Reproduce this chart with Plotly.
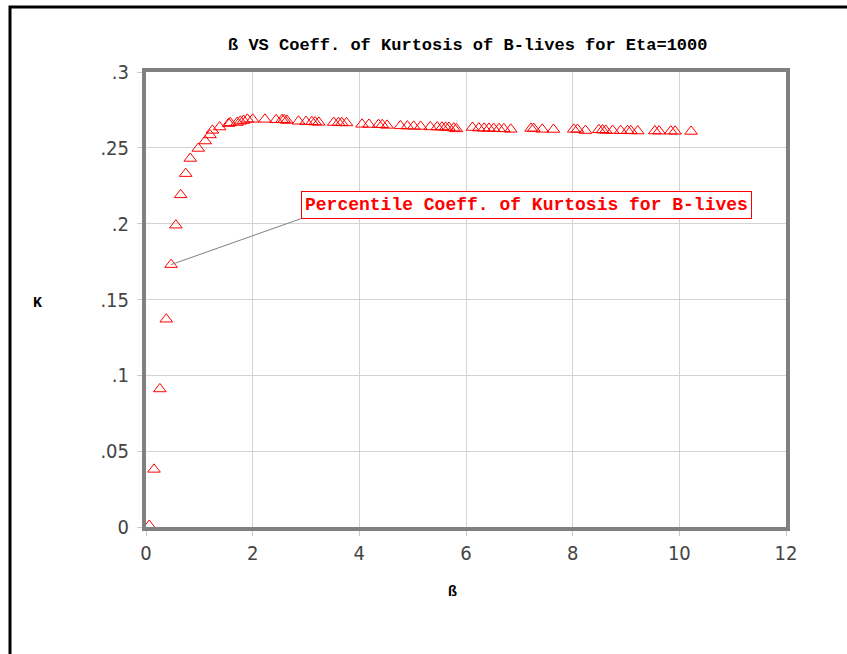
import plotly.graph_objects as go

beta = [0.06, 0.15, 0.26, 0.38, 0.47, 0.56, 0.65, 0.745, 0.83, 0.98, 1.11, 1.20, 1.245, 1.38,
        1.55, 1.58, 1.71, 1.77, 1.83, 1.90, 2.0, 2.23, 2.44, 2.55, 2.59, 2.64, 2.86, 3.0,
        3.11, 3.17, 3.24, 3.52, 3.61, 3.67, 3.76, 4.05, 4.18, 4.36, 4.43, 4.52, 4.77, 4.90,
        5.02, 5.15, 5.33, 5.46, 5.55, 5.62, 5.68, 5.77, 5.82, 6.12, 6.24, 6.34, 6.43, 6.52,
        6.62, 6.71, 6.84, 7.22, 7.27, 7.43, 7.64, 8.02, 8.09, 8.24, 8.49, 8.56, 8.62, 8.75,
        8.90, 9.03, 9.09, 9.22, 9.54, 9.62, 9.84, 9.92, 10.22]
kurt = [0.001, 0.038, 0.091, 0.137, 0.173, 0.199, 0.219, 0.233, 0.243, 0.2496, 0.2545, 0.2585,
        0.2615, 0.2637, 0.266, 0.2665, 0.2667, 0.2675, 0.268, 0.2688, 0.2688, 0.2688, 0.2685,
        0.2686, 0.2685, 0.268, 0.2675, 0.2673, 0.2672, 0.267, 0.2668, 0.2667, 0.2666, 0.2665,
        0.2664, 0.2655, 0.2654, 0.2653, 0.2652, 0.2648, 0.2645, 0.2643, 0.2642, 0.2641, 0.2638,
        0.2637, 0.2636, 0.2635, 0.2634, 0.263, 0.2625, 0.2634, 0.263, 0.2629, 0.2628, 0.2627,
        0.2626, 0.2625, 0.2622, 0.2628, 0.2627, 0.2622, 0.2621, 0.2622, 0.2621, 0.2614, 0.2619,
        0.2617, 0.2615, 0.2614, 0.2613, 0.2613, 0.2612, 0.2611, 0.2611, 0.261, 0.261, 0.2609,
        0.2608]

x_ticks = [0, 2, 4, 6, 8, 10, 12]
y_ticks = [0, 0.05, 0.1, 0.15, 0.2, 0.25, 0.3]
y_tick_text = ["0", ".05", ".1", ".15", ".2", ".25", ".3"]

title_text = "ß VS Coeff. of Kurtosis of B-lives for Eta=1000"
note_text = "Percentile Coeff. of Kurtosis for B-lives"
note_idx = 4

mono = "Liberation Mono, Courier New, monospace"
tickfont = dict(family="DejaVu Sans Condensed, Liberation Sans Narrow, Arial Narrow, sans-serif",
                size=20, color="#444444", weight=300)

fig = go.Figure()
fig.add_trace(go.Scatter(
    x=beta, y=kurt, mode="markers",
    marker=dict(symbol="triangle-up-open", size=11, color="#ff0000", line=dict(width=1)),
    showlegend=False, hoverinfo="x+y"))

fig.update_layout(
    width=847, height=654,
    margin=dict(l=146, r=61, t=72, b=127),
    paper_bgcolor="white", plot_bgcolor="white",
    xaxis=dict(range=[0, 12], tickvals=x_ticks, showgrid=True, gridcolor="#d3d3d3", gridwidth=1,
               showline=True, linecolor="#808080", linewidth=4, mirror=True, zeroline=False,
               ticks="outside", ticklen=5, tickcolor="#c8c8c8", tickfont=tickfont, ticklabelstandoff=0),
    yaxis=dict(range=[0, 0.3], tickvals=y_ticks, ticktext=y_tick_text, showgrid=True,
               gridcolor="#d3d3d3", gridwidth=1, showline=True, linecolor="#808080", linewidth=4,
               mirror=True, zeroline=False, ticks="outside", ticklen=5, tickcolor="#c8c8c8",
               tickfont=tickfont, ticklabelstandoff=4),
    annotations=[
        dict(text="<b>" + title_text + "</b>", xref="paper", yref="paper", x=0.502, y=1.058,
             xanchor="center", yanchor="middle", showarrow=False,
             font=dict(family=mono, size=17, color="black")),
        dict(text="<b>K</b>", xref="paper", yref="paper", x=-0.169, y=0.492,
             xanchor="center", yanchor="middle", showarrow=False,
             font=dict(family=mono, size=15, color="black")),
        dict(text="<b>ß</b>", xref="paper", yref="paper", x=0.479, y=-0.143,
             xanchor="center", yanchor="middle", showarrow=False,
             font=dict(family=mono, size=15, color="black")),
        dict(text="<b>" + note_text + "</b>", x=beta[note_idx], y=kurt[note_idx],
             xref="x", yref="y", showarrow=True, arrowhead=0, arrowwidth=1, arrowcolor="#808080",
             ax=130, ay=-46, xanchor="left", yanchor="bottom",
             bgcolor="white", bordercolor="#ff0000", borderwidth=1, borderpad=3,
             font=dict(family=mono, size=18, color="#ff0000")),
    ],
    shapes=[
        dict(type="rect", xref="paper", yref="paper", x0=-0.2125, x1=2, y0=-2, y1=1.1429,
             line=dict(color="black", width=3), fillcolor="rgba(0,0,0,0)", layer="above"),
    ],
)

fig.write_html("out.html")
